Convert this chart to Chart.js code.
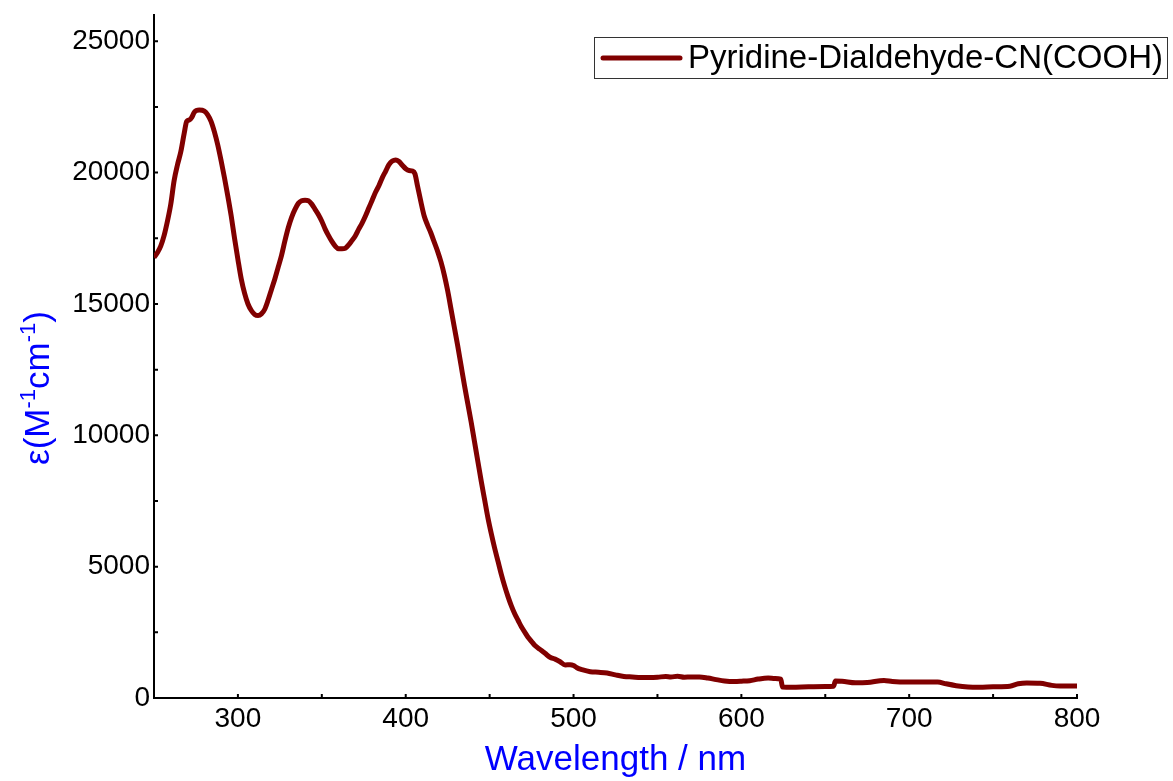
<!DOCTYPE html>
<html>
<head>
<meta charset="utf-8">
<script src="https://cdn.jsdelivr.net/npm/chart.js@4.4.0/dist/chart.umd.min.js"></script>
<style>
    html, body { margin: 0; padding: 0; background: #fff; }
</style>
</head>
<body>
<canvas id="uvvis" width="1173" height="781"></canvas>
<script>
const seriesLabel = 'Pyridine-Dialdehyde-CN(COOH)';

const wavelengths = [
    250, 252, 254, 256, 258, 260, 262, 264, 266, 268, 269.5, 271, 272.5, 274, 277, 280, 282, 284, 286, 288,
    290, 292, 294, 296, 298, 300, 302, 304, 306, 308, 310, 312, 314, 316, 318, 320, 322, 324, 326, 328,
    330, 332, 334, 336, 338, 340, 342, 344, 346, 348, 350, 352, 354, 356, 358, 360, 362, 364, 366, 368,
    370, 372, 374, 376, 378, 380, 382, 384, 386, 388, 390, 392, 394, 396, 398, 400, 402, 404, 405.5, 407,
    409, 411, 413, 415, 417, 419, 421, 423, 425, 427, 429, 431, 433, 435, 437, 439, 441, 443, 445, 447,
    449, 451, 453, 455, 457, 459, 461, 463, 465, 467, 469, 471, 473, 475, 477, 480, 483, 486, 489, 492,
    495, 498, 500, 502, 505, 510, 515, 520, 525, 530, 535, 540, 545, 550, 555, 558, 562, 566, 570, 575,
    580, 585, 590, 596, 600, 605, 610, 616, 620, 623.5, 624.5, 630, 640, 650, 655, 656, 660, 668, 675, 685,
    690, 700, 710, 717, 722, 728, 735, 742, 750, 760, 765, 770, 778, 785, 790, 800
];

const epsilon = [
    16770, 16950, 17200, 17600, 18150, 18800, 19700, 20300, 20800, 21500, 21950, 22000, 22100, 22300, 22380, 22340, 22200, 21950, 21550, 21050,
    20450, 19800, 19100, 18350, 17500, 16700, 15950, 15400, 15000, 14750, 14600, 14560, 14620, 14800, 15150, 15550, 15950, 16400, 16850, 17400,
    17900, 18300, 18600, 18830, 18930, 18950, 18930, 18800, 18600, 18400, 18150, 17850, 17600, 17380, 17200, 17100, 17100, 17120, 17250, 17420,
    17600, 17850, 18080, 18350, 18650, 18950, 19250, 19500, 19800, 20050, 20300, 20440, 20480, 20420, 20280, 20150, 20080, 20060, 19950, 19500,
    18900, 18350, 18000, 17700, 17350, 17000, 16600, 16100, 15500, 14800, 14100, 13400, 12650, 11900, 11200, 10500, 9750, 9000, 8250, 7550,
    6850, 6250, 5700, 5200, 4700, 4250, 3850, 3500, 3200, 2950, 2700, 2500, 2300, 2150, 2000, 1850, 1700, 1550, 1480, 1380,
    1260, 1270, 1240, 1150, 1080, 1000, 980, 950, 880, 820, 800, 780, 780, 790, 820, 800, 830, 790, 800, 800,
    760, 700, 650, 630, 640, 660, 720, 760, 740, 720, 420, 410, 430, 440, 450, 650, 640, 580, 590, 670,
    630, 610, 610, 610, 540, 470, 420, 410, 430, 450, 540, 570, 560, 480, 460, 460
];

const xTicks = [300, 400, 500, 600, 700, 800];
const xMinorTicks = [300, 350, 400, 450, 500, 550, 600, 650, 700, 750, 800];
const yTicks = [0, 5000, 10000, 15000, 20000, 25000];
const yMinorTicks = [2500, 5000, 7500, 10000, 12500, 15000, 17500, 20000, 22500, 25000];

const FONT = "'Liberation Sans', Arial, sans-serif";
const LINE_COLOR = '#800000';

// small ticks pointing into the plot, like the original software draws them
const innerTicks = {
    id: 'innerTicks',
    afterDraw(chart) {
        const ctx = chart.ctx;
        const x = chart.scales.x, y = chart.scales.y;
        ctx.save();
        ctx.strokeStyle = '#000';
        ctx.lineWidth = 2;
        ctx.beginPath();
        xMinorTicks.forEach(v => {
            const px = x.getPixelForValue(v);
            ctx.moveTo(px, y.bottom);
            ctx.lineTo(px, y.bottom - 4);
        });
        yMinorTicks.forEach(v => {
            const py = y.getPixelForValue(v);
            ctx.moveTo(x.left, py);
            ctx.lineTo(x.left + 4, py);
        });
        ctx.stroke();
        ctx.restore();
    }
};

// y title with superscripts
const yTitle = {
    id: 'yTitle',
    afterDraw(chart) {
        const ctx = chart.ctx;
        const parts = [
            { t: 'ε(M', sup: false },
            { t: '-1', sup: true },
            { t: 'cm', sup: false },
            { t: '-1', sup: true },
            { t: ')', sup: false }
        ];
        const big = '35px ' + FONT, small = '22px ' + FONT;
        let total = 0;
        parts.forEach(p => {
            ctx.font = p.sup ? small : big;
            p.w = ctx.measureText(p.t).width;
            total += p.w;
        });
        ctx.save();
        ctx.translate(49, 388);
        ctx.rotate(-Math.PI / 2);
        ctx.fillStyle = '#0000ff';
        ctx.textBaseline = 'alphabetic';
        let cx = -total / 2;
        parts.forEach(p => {
            ctx.font = p.sup ? small : big;
            ctx.fillText(p.t, cx, p.sup ? -14 : 0);
            cx += p.w;
        });
        ctx.restore();
    }
};

// legend in a framed box at top right
const boxLegend = {
    id: 'boxLegend',
    afterDraw(chart) {
        const ctx = chart.ctx;
        const ds = chart.data.datasets[0];
        ctx.save();
        ctx.strokeStyle = '#333';
        ctx.lineWidth = 1;
        ctx.strokeRect(594.5, 37.5, 573, 41);
        ctx.strokeStyle = ds.borderColor;
        ctx.lineWidth = 5;
        ctx.lineCap = 'round';
        ctx.beginPath();
        ctx.moveTo(603, 58);
        ctx.lineTo(680, 58);
        ctx.stroke();
        ctx.fillStyle = '#000';
        ctx.font = '33px ' + FONT;
        ctx.textBaseline = 'middle';
        ctx.fillText(ds.label, 688, 59);
        ctx.restore();
    }
};

new Chart(document.getElementById('uvvis'), {
    type: 'line',
    data: {
        datasets: [{
            label: seriesLabel,
            data: wavelengths.map((w, i) => ({ x: w, y: epsilon[i] })),
            borderColor: LINE_COLOR,
            borderWidth: 5,
            pointRadius: 0,
            cubicInterpolationMode: 'monotone',
            fill: false
        }]
    },
    options: {
        responsive: false,
        animation: false,
        layout: {
            padding: { top: 15, right: 96, left: 0, bottom: 0 }
        },
        plugins: {
            legend: { display: false },
            tooltip: { enabled: false }
        },
        scales: {
            x: {
                type: 'linear',
                min: 250,
                max: 800,
                afterBuildTicks: s => { s.ticks = xTicks.map(v => ({ value: v })); },
                afterFit: s => { s.height = 83; s.paddingLeft = 0; s.paddingRight = 0; },
                grid: { display: false, drawTicks: false },
                border: { display: true, color: '#000', width: 2 },
                ticks: {
                    color: '#000',
                    padding: 4,
                    maxRotation: 0,
                    autoSkip: false,
                    callback: v => String(v),
                    font: { family: FONT, size: 28 }
                },
                title: {
                    display: true,
                    text: 'Wavelength / nm',
                    color: '#0000ff',
                    padding: 0,
                    font: { family: FONT, size: 35, lineHeight: 1.2 }
                }
            },
            y: {
                min: 0,
                max: 26000,
                afterBuildTicks: s => { s.ticks = yTicks.map(v => ({ value: v })); },
                afterFit: s => { s.width = 154; s.paddingTop = 0; s.paddingBottom = 0; },
                grid: { display: false, drawTicks: false },
                border: { display: true, color: '#000', width: 2 },
                ticks: {
                    color: '#000',
                    padding: 4,
                    autoSkip: false,
                    callback: v => String(v),
                    font: { family: FONT, size: 28 }
                }
            }
        }
    },
    plugins: [innerTicks, yTitle, boxLegend]
});
</script>
</body>
</html>
